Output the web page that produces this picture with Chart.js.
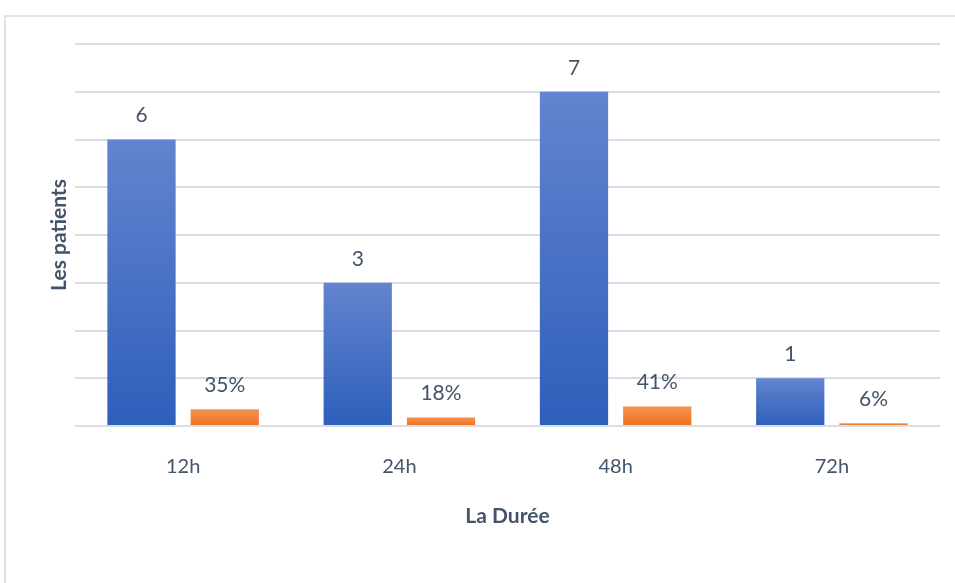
<!DOCTYPE html>
<html>
<head>
<meta charset="utf-8">
<script src="https://cdn.jsdelivr.net/npm/chart.js@4/dist/chart.umd.min.js"></script>
<style>
  html, body { margin: 0; padding: 0; background: #fff; }
  #wrap { position: relative; width: 955px; height: 583px; overflow: hidden; }
  #frame { position: absolute; left: 4px; top: 15px; width: 1000px; height: 600px;
           border-left: 2px solid #dfe3e8; border-top: 2px solid #dfe3e8; }
  #chart { position: absolute; left: 0; top: 0; }
</style>
</head>
<body>
<div id="wrap">
  <div id="frame"></div>
  <canvas id="chart" width="955" height="583"></canvas>
</div>
<script>
// données
const durees    = ['12h', '24h', '48h', '72h'];
const patients  = [6, 3, 7, 1];
const pourcents = [0.35, 0.18, 0.41, 0.06];
const yTicks    = [0, 1, 2, 3, 4, 5, 6, 7, 8];

const TEXT = '#44546A';
const GRID = '#dadde3';
const FONT = 'Lato, "Noto Sans", sans-serif';

// dégradé vertical sur chaque barre
function barGradient(top, bottom) {
  return c => {
    const chart = c.chart;
    if (!chart.chartArea || c.type !== 'data') return bottom;
    const y = chart.scales.y;
    const yTop = y.getPixelForValue(c.raw);
    const yBase = y.getPixelForValue(0);
    if (!isFinite(yTop) || yTop === yBase) return bottom;
    const g = chart.ctx.createLinearGradient(0, yTop, 0, yBase);
    g.addColorStop(0, top);
    g.addColorStop(1, bottom);
    return g;
  };
}

// étiquettes de valeur au-dessus des barres
const valueLabels = {
  id: 'valueLabels',
  afterDatasetsDraw(chart) {
    const ctx = chart.ctx;
    ctx.save();
    ctx.font = '21px ' + FONT;
    ctx.fillStyle = TEXT;
    ctx.textAlign = 'center';
    ctx.textBaseline = 'middle';
    chart.data.datasets.forEach((ds, i) => {
      chart.getDatasetMeta(i).data.forEach((bar, j) => {
        const v = ds.data[j];
        const txt = ds.isPct ? Math.round(v * 100) + '%' : String(v);
        ctx.fillText(txt, bar.x, bar.y - 24);
      });
    });
    ctx.restore();
  },
};

new Chart(document.getElementById('chart'), {
  type: 'bar',
  data: {
    labels: durees,
    datasets: [
      {
        label: 'Patients',
        data: patients,
        backgroundColor: barGradient('#6384ce', '#2d5fbb'),
        categoryPercentage: 0.77,
        barPercentage: 0.82,
      },
      {
        label: 'Pourcentage',
        data: pourcents,
        isPct: true,
        backgroundColor: barGradient('#f4944f', '#ec7022'),
        categoryPercentage: 0.77,
        barPercentage: 0.82,
      },
    ],
  },
  options: {
    responsive: false,
    animation: false,
    layout: { padding: { top: 44, right: 15, left: 0, bottom: 0 } },
    plugins: { legend: { display: false }, tooltip: { enabled: false } },
    scales: {
      x: {
        grid: { display: false },
        border: { display: false },
        ticks: { color: TEXT, font: { size: 20, family: FONT }, padding: 21 },
        title: {
          display: true, text: 'La Durée', color: TEXT,
          font: { size: 21, weight: 'bold', family: FONT },
          padding: { top: 0, bottom: 54 },
        },
        afterFit: s => { s.height = 157; },
      },
      y: {
        min: 0, max: yTicks[yTicks.length - 1],
        afterBuildTicks: s => { s.ticks = yTicks.map(v => ({ value: v })); },
        grid: { color: GRID, lineWidth: 2, drawTicks: false },
        border: { display: false },
        ticks: { display: false },
        title: {
          display: true, text: 'Les patients', color: TEXT,
          font: { size: 21, weight: 'bold', family: FONT },
          padding: { top: 47, bottom: 0 },
        },
        afterFit: s => { s.width = 75; },
      },
    },
  },
  plugins: [valueLabels],
});
</script>
</body>
</html>
